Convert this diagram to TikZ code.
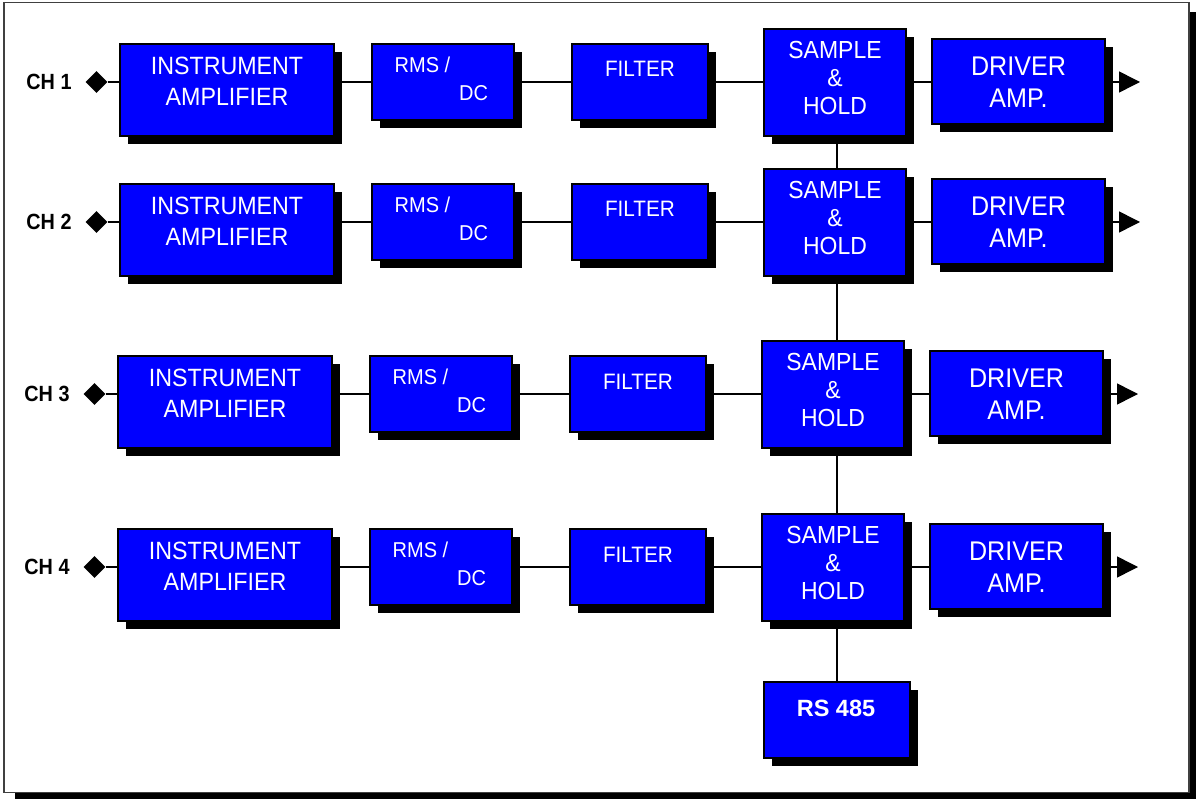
\documentclass[tikz,border=0pt]{standalone}
\usepackage{fontspec}
\setmainfont{Liberation Sans}
\usetikzlibrary{shapes.geometric,arrows.meta,shadows,backgrounds}
\newcommand\sq[1]{\scalebox{0.93}[1]{#1}}
\newcommand\sqb[1]{\scalebox{0.9}[1]{#1}}
\tikzset{
  blk/.style={draw=black, line width=1.2pt, fill=blue, inner sep=0pt, outer sep=0pt,
    drop shadow={shadow xshift=8pt, shadow yshift=-8pt, opacity=1, fill=black}},
  txt/.style={text=white, inner sep=0pt, text depth=0pt},
  fIA/.style={txt, text height=17.9pt, font=\fontsize{25}{30}\selectfont},
  fRM/.style={txt, text height=15.4pt, font=\fontsize{21.5}{26}\selectfont},
  fFI/.style={txt, text height=16pt, font=\fontsize{22.3}{27}\selectfont},
  fSH/.style={txt, text height=17.7pt, font=\fontsize{24.7}{29}\selectfont},
  fDR/.style={txt, text height=19.3pt, font=\fontsize{27}{32}\selectfont},
  fRS/.style={txt, text height=16.8pt, font=\bfseries\fontsize{23.5}{28}\selectfont},
  chl/.style={inner sep=0pt, text height=15.75pt, text depth=0pt, font=\bfseries\fontsize{22}{26}\selectfont},
  dia/.style={diamond, fill=black, inner sep=0pt, minimum width=22pt, minimum height=22pt},
  wire/.style={line width=1.5pt, draw=black},
  outarrow/.style={wire, -{Triangle[length=21pt, width=21pt]}}
}
\newcommand\bx[5]{\node[blk, minimum width={(#4-#2)*1pt}, minimum height={(#5-#3)*1pt}] (#1) at ({(#2+#4)/2},{-(#3+#5)/2}) {};}
\newcommand\chanrow[4]{%
  \begin{scope}[shift={(#3,-#2)}]
    \coordinate (r#1) at (0,0);
    \coordinate (o#1) at (1140,0);
    \node[chl] (ch#1) at (49,0) {\sqb{CH #4}};
    \node[dia] (d#1) at (96.5,0) {};
    \bx{ia#1}{120}{-38}{334}{54}
    \node[fIA] (ia#1a) at (227,16) {\sq{INSTRUMENT}};
    \node[fIA] (ia#1b) at (227,-15) {\sq{AMPLIFIER}};
    \bx{rm#1}{372}{-38}{514}{38}
    \node[fRM] (rm#1a) at (422.5,17) {\sq{RMS /}};
    \node[fRM] (rm#1b) at (473.5,-11) {\sq{DC}};
    \bx{fi#1}{572}{-38}{708}{38}
    \node[fFI] (fi#1a) at (640,13) {\sq{FILTER}};
    \bx{sh#1}{764}{-53}{906}{54}
    \node[fSH] (sh#1a) at (835,32) {\sq{SAMPLE}};
    \node[fSH] (sh#1b) at (835,4) {\sq{\&}};
    \node[fSH] (sh#1c) at (835,-24) {\sq{HOLD}};
    \bx{dr#1}{932}{-43}{1105}{42}
    \node[fDR] (dr#1a) at (1018.5,16) {\sq{DRIVER}};
    \node[fDR] (dr#1b) at (1018.5,-16) {\sq{AMP.}};
  \end{scope}}
\begin{document}
\begin{tikzpicture}[x=1pt,y=1pt]
\useasboundingbox (0,0) rectangle (1196,-799);
\begin{pgfonlayer}{background}
  \fill[black] (15,-12) rectangle (1196,-799);
  \draw[draw=black!75, line width=1.5pt, fill=white] (4,-2.7) rectangle (1189,-792.5);
\end{pgfonlayer}
\chanrow{1}{82}{0}{1}
\chanrow{2}{222}{0}{2}
\chanrow{3}{394}{-2}{3}
\chanrow{4}{567}{-2}{4}
\bx{rs}{764}{682}{910}{758}
\node[fRS] (rsa) at (836,-708) {RS 485};
\coordinate (vx) at (837,0);
\begin{pgfonlayer}{background}
  \foreach \k in {1,2,3,4}{
    \draw[wire] (d\k) -- (d\k -| ia\k.west);
    \draw[wire] (ia\k.east |- r\k) -- (rm\k.west |- r\k);
    \draw[wire] (rm\k.east |- r\k) -- (fi\k.west |- r\k);
    \draw[wire] (fi\k.east |- r\k) -- (sh\k.west |- r\k);
    \draw[wire] (sh\k.east |- r\k) -- (dr\k.west |- r\k);
    \draw[outarrow] (dr\k.east |- r\k) -- (o\k);
  }
  \draw[wire] (vx |- sh1.south) -- (vx |- rs.north);
\end{pgfonlayer}
\end{tikzpicture}
\end{document}
